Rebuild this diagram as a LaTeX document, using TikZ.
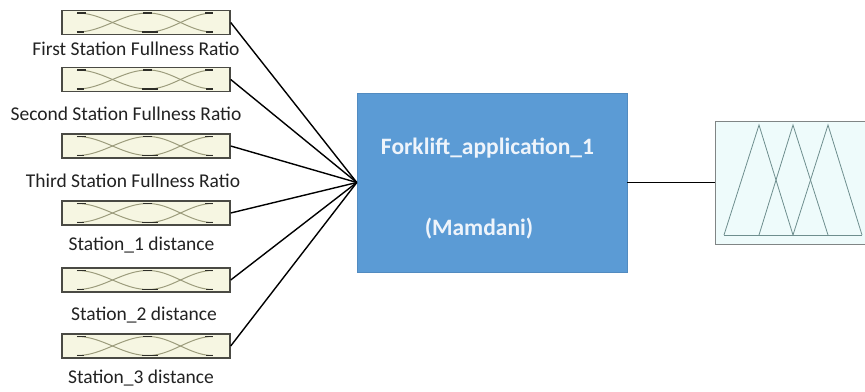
\documentclass[tikz,border=0pt]{standalone}
\usepackage{fontspec}
\setmainfont{Carlito}
\definecolor{cream}{HTML}{F6F6E2}
\definecolor{boxedge}{HTML}{4A4A44}
\definecolor{mfline}{HTML}{9C9C7C}
\definecolor{mfdark}{HTML}{2E2E28}
\definecolor{fisblue}{HTML}{5B9BD5}
\definecolor{fistext}{HTML}{EEF4FB}
\definecolor{outfill}{HTML}{EEFBFB}
\definecolor{outedge}{HTML}{808585}
\definecolor{triline}{HTML}{6E8E8E}
\definecolor{labtext}{HTML}{222222}
\tikzset{
  inbox/.style={draw=boxedge, line width=1.4pt, fill=cream, minimum width=168pt, minimum height=24pt, inner sep=0pt},
  inlabel/.style={font=\fontsize{19.5}{22}\selectfont, text=labtext, anchor=base, inner sep=0pt},
  fisbox/.style={fill=fisblue, draw=fisblue!90!black, line width=0.4pt, minimum width=270pt, minimum height=179pt, inner sep=0pt},
  fistxt/.style={font=\fontsize{23.5}{26}\selectfont\bfseries, text=fistext, anchor=base, inner sep=0pt},
  outbox/.style={draw=outedge, line width=1pt, fill=outfill, minimum width=153pt, minimum height=123pt, inner sep=0pt},
  conn/.style={draw=black, line width=1.4pt},
  mfcurve/.style={draw=mfline, line width=1pt},
  mfend/.style={draw=mfdark, line width=1.3pt},
  tri/.style={draw=triline, line width=0.8pt, line join=miter}
}
\newcommand\mfcurves[1]{%
  \begin{scope}[shift={(#1.center)}]
    \path[mfcurve] plot[domain=0:1, samples=30] ({-69+71*\x}, {-9.5+19*(1-cos(180*\x))/2});
    \path[mfcurve] plot[domain=0:1, samples=30] ({-69+71*\x}, {9.5-19*(1-cos(180*\x))/2});
    \path[mfcurve] plot[domain=0:1, samples=30] ({2+65*\x}, {-9.5+19*(1-cos(180*\x))/2});
    \path[mfcurve] plot[domain=0:1, samples=30] ({2+65*\x}, {9.5-19*(1-cos(180*\x))/2});
    \path[mfend] (-69,-9.5) -- (-60,-9.5);
    \path[mfend] (-69,9.5) -- (-62,9.5);
    \path[mfend] (-3,-9.5) -- (6,-9.5);
    \path[mfend] (-4,9.5) -- (12,9.5);
    \path[mfend] (59,-9.5) -- (67,-9.5);
    \path[mfend] (60,9.5) -- (67,9.5);
  \end{scope}}
\begin{document}
\begin{tikzpicture}[x=1pt,y=-1pt]
\useasboundingbox (0,0) rectangle (865,391);
\fill[white] (0,0) rectangle (865,391);
% input boxes
\node[inbox] (in1) at (146,22.5) {};
\node[inbox] (in2) at (146,79.5) {};
\node[inbox] (in3) at (146,146) {};
\node[inbox] (in4) at (146,213) {};
\node[inbox] (in5) at (146,280) {};
\node[inbox] (in6) at (146,346) {};
\mfcurves{in1}\mfcurves{in2}\mfcurves{in3}\mfcurves{in4}\mfcurves{in5}\mfcurves{in6}
% labels
\node[inlabel] (l1) at (136,55) {First Station Fullness Ratio};
\node[inlabel] (l2) at (126,120) {Second Station Fullness Ratio};
\node[inlabel] (l3) at (133,187) {Third Station Fullness Ratio};
\node[inlabel] (l4) at (141.5,250) {Station\_1 distance};
\node[inlabel] (l5) at (144,320) {Station\_2 distance};
\node[inlabel] (l6) at (141,383) {Station\_3 distance};
% FIS box
\node[fisbox] (fis) at (492,182.5) {};
\node[fistxt] (t1) at (487.5,154) {Forklift\_application\_1};
\node[fistxt] (t2) at (479,235) {(Mamdani)};
\coordinate (hub) at (fis.west);
% output box
\node[outbox] (out) at (791.5,182.5) {};
\draw[tri] (724,235) -- (759,125) -- (793,235);
\draw[tri] (759,235) -- (793,125) -- (828,235);
\draw[tri] (793,235) -- (828,125) -- (862,235);
\draw[tri] (724,235) -- (862,235);
% connectors
\foreach \n in {in1,in2,in3,in4,in5,in6} {\draw[conn] (\n.east) -- (hub);}
\draw[conn] (fis.east) -- (out.west);
\end{tikzpicture}
\end{document}
